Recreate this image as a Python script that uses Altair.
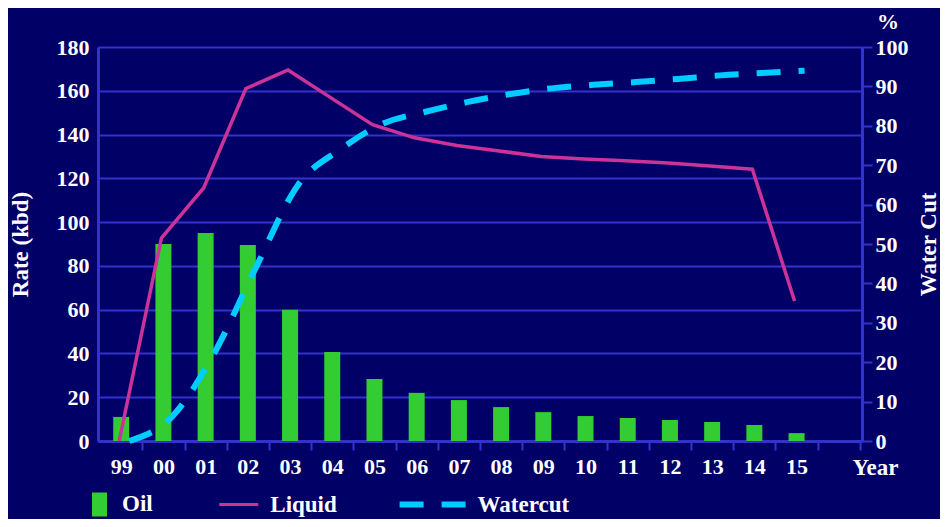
import altair as alt
import pandas as pd

# ---------------- data ----------------
years = ["99", "00", "01", "02", "03", "04", "05", "06", "07", "08",
         "09", "10", "11", "12", "13", "14", "15"]
oil = [11, 90, 95, 89.5, 60, 40.7, 28.3, 22, 18.7, 15.5,
       13.2, 11.4, 10.5, 9.6, 8.7, 7.3, 3.6]
liquid = [0, 92.7, 115.6, 161, 169.5, 157, 144.5, 138.5, 135, 132.5,
          130, 128.8, 128, 127, 125.6, 124.2, 64]
watercut = [0, 6, 22, 44, 65, 74, 80.5, 83.5, 86, 88,
            89.5, 90.4, 91.1, 91.9, 92.8, 93.4, 94]
series = ["Oil", "Liquid", "Watercut"]
x_domain = years + [" "]          # empty trailing year slot
left_ticks = list(range(0, 181, 20))
right_ticks = list(range(0, 101, 10))

# ---------------- styles ----------------
BG = "#000066"
GRID = "#3333cc"
OIL_C = "#33cc33"
LIQ_C = "#cc3399"
WC_C = "#00ccff"
FONT = "Liberation Serif"
series_colors = [OIL_C, LIQ_C, WC_C]
# legend glyphs (unit coords, scaled by sqrt(symbolSize)/2)
series_paths = [
    "M-1,0M1,0M0.371,-0.343H0.8V0.343H0.371Z",
    "M-1,0M3.79,0M-0.229,-0.043H0.886V0.043H-0.229Z",
    "M-1,0M1,0M-1,-0.086H-0.314V0.086H-1ZM0.2,-0.086H0.886V0.086H0.2Z",
]

df = pd.DataFrame({"year": years, "oil": oil, "liquid": liquid, "watercut": watercut})
leg_df = pd.DataFrame({"series": series})

txt = dict(labelFont=FONT, labelFontSize=22, labelFontWeight="bold", labelColor="white",
           titleFont=FONT, titleFontSize=23, titleFontWeight="bold", titleColor="white")

x_axis = alt.Axis(orient="bottom", title="Year", titleX=754, titleY=33, titleAlign="left",
                  titleBaseline="alphabetic", titleAngle=0, labelAngle=0,
                  tickOffset=21.1, labelOffset=-21.1, tickSize=9, tickWidth=2, tickColor=GRID,
                  domainColor=GRID, domainWidth=3, labelPadding=6, grid=False, **txt)
x_enc = alt.X("year:N", sort=None,
              scale=alt.Scale(type="band", domain=x_domain, paddingInner=0, paddingOuter=0.05),
              axis=x_axis)

left_axis = alt.Axis(orient="left", title="Rate (kbd)", values=left_ticks, grid=True,
                     gridColor=GRID, gridWidth=2, ticks=False, labelPadding=9,
                     domainColor=GRID, domainWidth=3, titlePadding=24, **txt)
right_axis = alt.Axis(orient="right", title="Water Cut", titleAngle=270, values=right_ticks,
                      grid=False, tickSize=10, tickWidth=2, tickColor=GRID,
                      domainColor=GRID, domainWidth=3, labelPadding=3, titlePadding=32, **txt)

bars = alt.Chart(df).mark_bar(width=16, color=OIL_C).encode(
    x=x_enc,
    y=alt.Y("oil:Q", scale=alt.Scale(domain=[0, 180]), axis=left_axis),
)
liq = alt.Chart(df).mark_line(color=LIQ_C, strokeWidth=3.5, xOffset=-2).encode(
    x=x_enc,
    y=alt.Y("liquid:Q"),
)
left = alt.layer(bars, liq)

wc = alt.Chart(df).mark_line(color=WC_C, strokeWidth=6, strokeDash=[24, 18],
                             interpolate="monotone", xOffset=8).encode(
    x=x_enc,
    y=alt.Y("watercut:Q", scale=alt.Scale(domain=[0, 100]), axis=right_axis),
)

legend = alt.Legend(title=None, orient="none", legendX=-54, legendY=422, direction="horizontal",
                    columns=3, symbolSize=4900, symbolStrokeWidth=0, symbolOpacity=1,
                    labelOffset=8, columnPadding=39.3, padding=0, labelLimit=400,
                    labelFont=FONT, labelFontSize=23, labelFontWeight="bold", labelColor="white")
leg = alt.Chart(leg_df).transform_filter("false").mark_point(filled=True, opacity=1).encode(
    color=alt.Color("series:N", scale=alt.Scale(domain=series, range=series_colors), legend=legend),
    shape=alt.Shape("series:N", scale=alt.Scale(domain=series, range=series_paths), legend=legend),
)

chart = alt.layer(left, wc, leg).resolve_scale(y="independent").properties(
    width=764, height=394,
    title=alt.TitleParams("%", anchor="end", frame="group", dx=37, offset=2, font=FONT,
                          fontSize=22, fontWeight="bold", color="white"),
    autosize=alt.AutoSizeParams(type="none"),
    padding={"left": 90, "top": 39, "right": 78, "bottom": 78},
    background=BG,
).configure_view(stroke=None)

chart.save("out.html", embed_options={"renderer": "svg", "actions": False})
